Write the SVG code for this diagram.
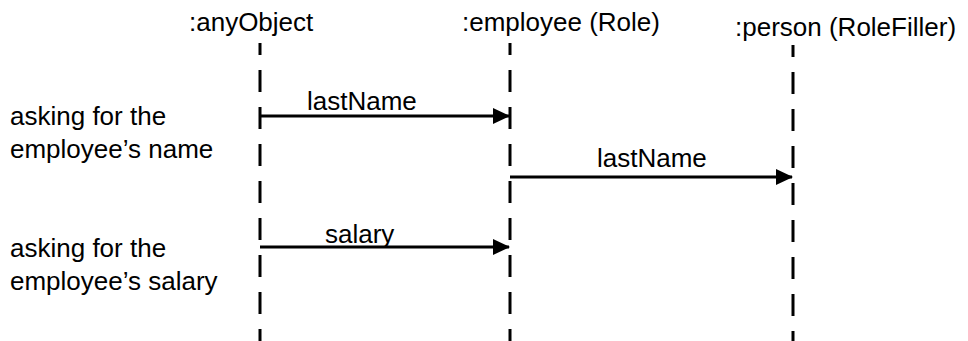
<svg xmlns="http://www.w3.org/2000/svg" width="968" height="341" viewBox="0 0 968 341">
  <defs>
    <marker id="arrowhead" markerUnits="userSpaceOnUse" markerWidth="17" markerHeight="16" refX="16" refY="8" orient="auto">
      <path d="M0,0 L17,8 L0,16 Z" fill="#000"/>
    </marker>
  </defs>
  <style>
    text { font-family: "Liberation Sans", Arial, Helvetica, sans-serif; font-size: 26px; fill: #000; }
    .lifeline { stroke: #000; stroke-width: 3; stroke-dasharray: 22 15; stroke-dashoffset: 10; fill: none; }
    .msg { stroke: #000; stroke-width: 3; fill: none; marker-end: url(#arrowhead); }
  </style>
  <rect width="968" height="341" fill="#fff"/>

  <!-- objects with their lifelines -->
  <g id="anyObject">
    <text x="189" y="31">:anyObject</text>
    <line class="lifeline" x1="260" y1="43" x2="260" y2="341"/>
  </g>
  <g id="employee">
    <text x="462" y="31">:employee (Role)</text>
    <line class="lifeline" x1="510" y1="43" x2="510" y2="341"/>
  </g>
  <g id="person">
    <text x="735" y="36">:person (RoleFiller)</text>
    <line class="lifeline" x1="793" y1="45" x2="793" y2="341"/>
  </g>

  <!-- notes on the left -->
  <g id="note-name">
    <text x="10" y="125">asking for the</text>
    <text x="10" y="158">employee’s name</text>
  </g>
  <g id="note-salary">
    <text x="10" y="257">asking for the</text>
    <text x="10" y="290">employee’s salary</text>
  </g>

  <!-- messages -->
  <g id="messages">
    <line class="msg" x1="260" y1="116" x2="509" y2="116"/>
    <text x="307" y="110">lastName</text>
    <line class="msg" x1="510" y1="177" x2="792" y2="177"/>
    <text x="597" y="167">lastName</text>
    <line class="msg" x1="260" y1="247" x2="509" y2="247"/>
    <text x="325" y="243">salary</text>
  </g>
</svg>
